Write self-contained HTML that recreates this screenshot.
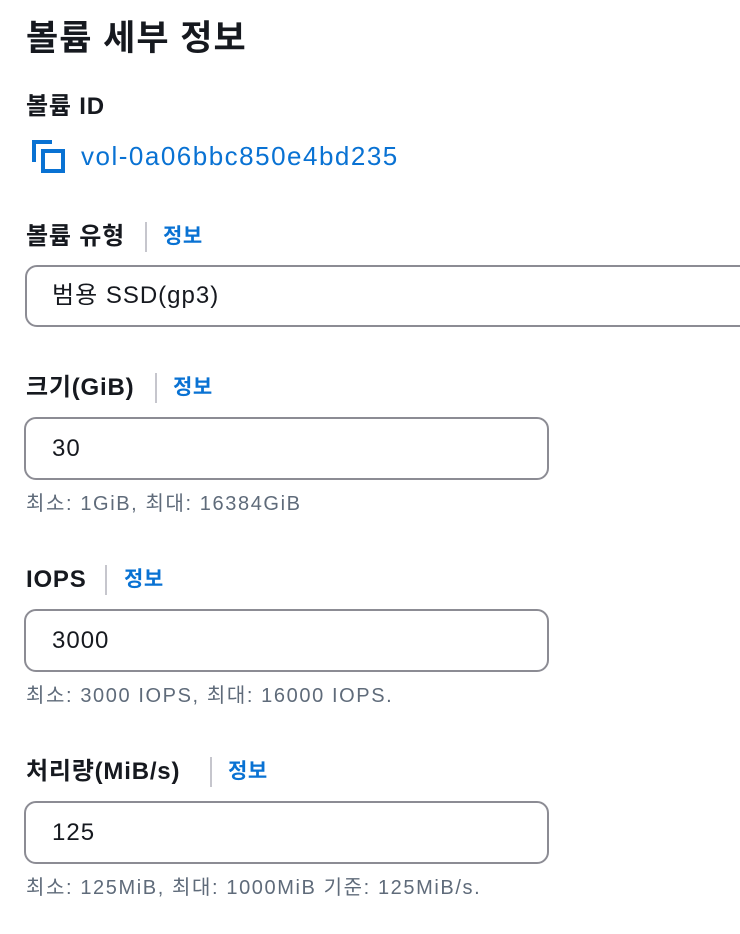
<!DOCTYPE html>
<html><head><meta charset="utf-8"><style>
body{margin:0;width:740px;height:934px;background:#fff;overflow:hidden;position:relative;font-family:"Liberation Sans","Noto Sans CJK KR",sans-serif;color:#16191f}
.a{position:absolute;white-space:nowrap;line-height:1}
.t{font-size:35px;font-weight:bold;letter-spacing:1px}
.l{font-size:24px;font-weight:bold;letter-spacing:0.8px}
.i{font-size:21px;font-weight:bold;color:#0972d3;letter-spacing:0.5px}
.sep{position:absolute;width:2px;height:30px;background:#c6c6cd}
.box{position:absolute;border:2px solid #8c8c94;border-radius:12px;box-sizing:border-box}
.v{font-size:24px;letter-spacing:1px}
.h{font-size:20px;color:#5f6b7a;letter-spacing:1.6px}
</style></head><body>
<div class="a t" style="left:26px;top:21px">볼륨 세부 정보</div>
<div class="a l" style="left:26px;top:95px">볼륨 ID</div>
<svg style="position:absolute;left:32px;top:140px" width="34" height="34"><path d="M2 22V2h18" fill="none" stroke="#0972d3" stroke-width="4"/><rect x="11" y="11" width="20" height="20" fill="none" stroke="#0972d3" stroke-width="4"/></svg>
<div class="a" style="left:81px;top:143px;font-size:26px;color:#0972d3;letter-spacing:1.5px">vol-0a06bbc850e4bd235</div>

<div class="a l" style="left:26px;top:225px">볼륨 유형</div>
<div class="sep" style="left:145px;top:222px"></div>
<div class="a i" style="left:163px;top:226px">정보</div>
<div class="box" style="left:25px;top:265px;width:740px;height:62px"></div>
<div class="a v" style="left:52px;top:284px">범용 SSD(gp3)</div>

<div class="a l" style="left:26px;top:376px">크기(GiB)</div>
<div class="sep" style="left:155px;top:373px"></div>
<div class="a i" style="left:173px;top:377px">정보</div>
<div class="box" style="left:24px;top:417px;width:525px;height:63px"></div>
<div class="a v" style="left:52px;top:437px">30</div>
<div class="a h" style="left:26px;top:494px">최소: 1GiB, 최대: 16384GiB</div>

<div class="a l" style="left:26px;top:568px">IOPS</div>
<div class="sep" style="left:105px;top:565px"></div>
<div class="a i" style="left:124px;top:569px">정보</div>
<div class="box" style="left:24px;top:609px;width:525px;height:63px"></div>
<div class="a v" style="left:52px;top:629px">3000</div>
<div class="a h" style="left:26px;top:686px">최소: 3000 IOPS, 최대: 16000 IOPS.</div>

<div class="a l" style="left:26px;top:760px">처리량(MiB/s)</div>
<div class="sep" style="left:210px;top:757px"></div>
<div class="a i" style="left:228px;top:761px">정보</div>
<div class="box" style="left:24px;top:801px;width:525px;height:63px"></div>
<div class="a v" style="left:52px;top:821px">125</div>
<div class="a h" style="left:26px;top:878px">최소: 125MiB, 최대: 1000MiB 기준: 125MiB/s.</div>
</body></html>
